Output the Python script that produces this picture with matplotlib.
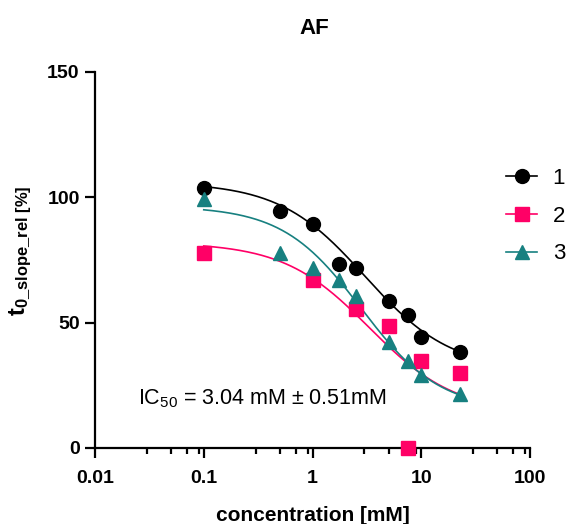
import matplotlib
matplotlib.use("Agg")
import matplotlib.pyplot as plt
from matplotlib.ticker import LogLocator, FixedLocator, NullFormatter
from matplotlib.lines import Line2D
import numpy as np

plt.rcParams['font.family'] = ['Liberation Sans', 'DejaVu Sans']
plt.rcParams['mathtext.fontset'] = 'custom'
plt.rcParams['mathtext.rm'] = 'Liberation Sans'
plt.rcParams['mathtext.it'] = 'Liberation Sans:italic'
plt.rcParams['mathtext.bf'] = 'Liberation Sans:bold'

# measured data (concentration in mM, response in %)
conc_1 = [0.1, 0.5, 1, 1.75, 2.5, 5, 7.5, 10, 22.5]
resp_1 = [103.7, 94.5, 89.3, 73.4, 72.0, 58.6, 53.0, 44.3, 38.3]

conc_2 = [0.1, 1, 2.5, 5, 7.5, 10, 22.5]
resp_2 = [77.8, 67.0, 55.4, 48.7, 0.0, 34.7, 29.9]

conc_3 = [0.1, 0.5, 1, 1.75, 2.5, 5, 7.5, 10, 22.5]
resp_3 = [99.3, 77.8, 71.8, 67.0, 60.6, 42.3, 34.7, 29.1, 21.5]

# fitted 4PL parameters: top, bottom, IC50, hill
fit_1 = [106.0, 31.0, 3.04, 1.1]
fit_2 = [82.0, 14.0, 3.33, 1.1]
fit_3 = [96.5, 15.0, 2.8, 1.2]

labels = ['1', '2', '3']
colors = ['black', '#ff0066', '#178080']
markers = ['o', 's', '^']
ic50_text = 'IC$_{50}$ = 3.04 mM ± 0.51mM'


def four_pl(x, top, bottom, ic50, hill):
    return bottom + (top - bottom) / (1 + (x / ic50) ** hill)


fig = plt.figure(figsize=(5.69, 5.24), dpi=100)
ax = fig.add_axes([95 / 569, 76 / 524, 435 / 569, 376 / 524])

series = [(conc_1, resp_1, fit_1), (conc_2, resp_2, fit_2), (conc_3, resp_3, fit_3)]
for (xs, ys, p), c, m in zip(series, colors, markers):
    xx = np.logspace(np.log10(min(xs)), np.log10(max(xs)), 200)
    ax.plot(xx, four_pl(xx, *p), color=c, lw=1.2, zorder=2)
    ax.plot(xs, ys, ls='none', marker=m, color=c, ms=10, mec=c, zorder=3, clip_on=False)

ax.set_xscale('log')
ax.set_xlim(0.01, 100)
ax.set_ylim(0, 150)
ax.xaxis.set_major_locator(FixedLocator([0.01, 0.1, 1, 10, 100]))
ax.set_xticklabels(['0.01', '0.1', '1', '10', '100'])
ax.xaxis.set_minor_locator(LogLocator(base=10, subs=[3, 5, 7, 9]))
ax.xaxis.set_minor_formatter(NullFormatter())
ax.set_yticks([0, 50, 100, 150])

for s in ['top', 'right']:
    ax.spines[s].set_visible(False)
for s in ['left', 'bottom']:
    ax.spines[s].set_linewidth(1.6)

ax.tick_params(axis='both', which='major', length=7, width=1.6, labelsize=14)
ax.tick_params(axis='x', which='minor', length=4, width=1.6)
ax.tick_params(axis='x', which='major', pad=9)
ax.tick_params(axis='y', which='major', pad=4)
for t in ax.get_xticklabels() + ax.get_yticklabels():
    t.set_fontweight('bold')

ax.set_xlabel('concentration [mM]', fontsize=15, fontweight='bold')
ax.xaxis.set_label_coords(0.5, -0.153)
ax.set_ylabel(r'$\mathbf{t_{0\_slope\_rel\ [\%]}}$', fontsize=17)
ax.yaxis.set_label_coords(-0.14, 0.524)

fig.text(314 / 569, 1 - 28 / 524, 'AF', ha='center', va='center', fontsize=16, fontweight='bold')

ax.text(0.099, 0.117, ic50_text, transform=ax.transAxes, fontsize=15.5, va='baseline')

handles = [Line2D([0], [0], color=c, marker=m, ms=10, lw=1.2) for c, m in zip(colors, markers)]
fig.legend(handles, labels, loc='upper left', bbox_to_anchor=(506 / 569, 1 - 168 / 524),
           frameon=False, fontsize=16, handlelength=1.4, handletextpad=0.7,
           labelspacing=0.75, borderpad=0, borderaxespad=0)

fig.savefig('out.png', dpi=100)
